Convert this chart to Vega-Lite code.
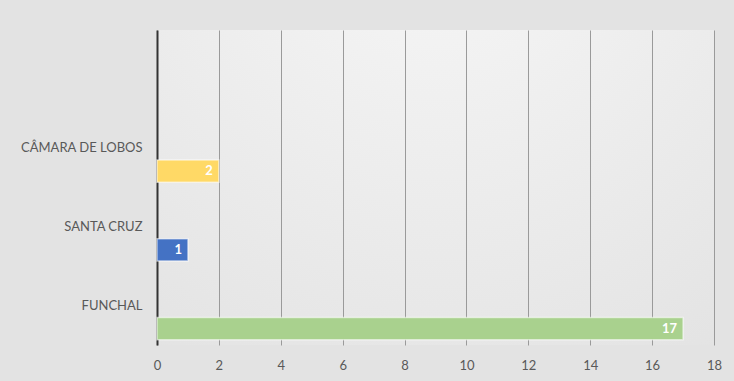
{
  "$schema": "https://vega.github.io/schema/vega-lite/v6.json",
  "autosize": {"type": "none"},
  "width": 557,
  "height": 315,
  "padding": {"left": 157, "top": 30, "right": 20, "bottom": 36},
  "background": "#e3e3e3",
  "view": {
    "stroke": null,
    "fill": {
      "gradient": "radial",
      "x1": 0.5, "y1": 0.0, "r1": 0,
      "x2": 0.5, "y2": 0.0, "r2": 1.1,
      "stops": [
        {"offset": 0, "color": "#f7f7f7"},
        {"offset": 1, "color": "#e0e0e0"}
      ]
    }
  },
  "config": {
    "font": "Lato",
    "axis": {"labelFont": "Lato", "labelColor": "#595959", "labelFontSize": 13, "title": null}
  },
  "data": {
    "values": [
      {"municipio": "CÂMARA DE LOBOS", "valor": 2},
      {"municipio": "SANTA CRUZ", "valor": 1},
      {"municipio": "FUNCHAL", "valor": 17}
    ]
  },
  "encoding": {
    "y": {
      "field": "municipio",
      "type": "nominal",
      "scale": {"domain": [" ", "CÂMARA DE LOBOS", "SANTA CRUZ", "FUNCHAL"], "paddingInner": 0, "paddingOuter": 0},
      "axis": {
        "domain": true,
        "domainColor": "#333333",
        "domainWidth": 2,
        "ticks": false,
        "grid": false,
        "labelPadding": 15,
        "title": null
      }
    },
    "x": {
      "field": "valor",
      "type": "quantitative",
      "scale": {"domain": [0, 18], "nice": false},
      "axis": {
        "values": [0, 2, 4, 6, 8, 10, 12, 14, 16, 18],
        "domain": false,
        "ticks": false,
        "grid": true,
        "gridColor": "#9a9a9a",
        "gridWidth": 1,
        "labelPadding": 14,
        "labelFlush": false,
        "title": null
      }
    }
  },
  "layer": [
    {
      "mark": {
        "type": "bar",
        "height": {"band": 0.28},
        "yOffset": 23,
        "stroke": "#ffffff",
        "strokeOpacity": 0.55,
        "strokeWidth": 1.5
      },
      "encoding": {
        "color": {
          "field": "municipio",
          "type": "nominal",
          "scale": {
            "domain": ["CÂMARA DE LOBOS", "SANTA CRUZ", "FUNCHAL"],
            "range": ["#ffd966", "#4472c4", "#a9d18e"]
          },
          "legend": null
        }
      }
    },
    {
      "mark": {
        "type": "text",
        "align": "right",
        "baseline": "middle",
        "dx": -6,
        "yOffset": 23,
        "color": "#ffffff",
        "fontWeight": "bold",
        "fontSize": 13,
        "font": "Lato"
      },
      "encoding": {
        "text": {"field": "valor", "type": "quantitative"}
      }
    }
  ]
}
